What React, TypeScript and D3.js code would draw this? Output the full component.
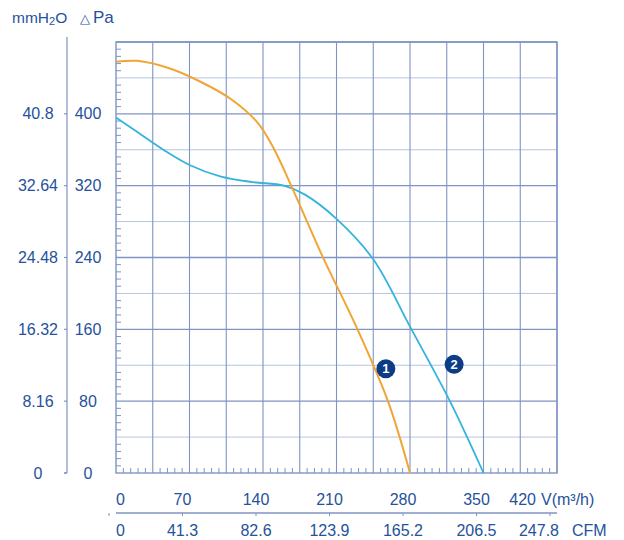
import React from "react";
import * as d3 from "d3";

const flowTicks = [0, 70, 140, 210, 280, 350, 420];
const cfmLabels = ["0", "41.3", "82.6", "123.9", "165.2", "206.5", "247.8"];
const paTicks = [0, 80, 160, 240, 320, 400];
const mmLabels = ["0", "8.16", "16.32", "24.48", "32.64", "40.8"];

const curve1Flow = [0, 20, 50, 80, 110, 135, 150, 168, 196, 230, 259, 280];
const curve1Pa = [458, 459, 451, 436, 416, 390, 362, 317, 243, 160, 80, 0];
const curve2Flow = [0, 20, 45, 70, 100, 130, 160, 180, 210, 245, 280, 318, 350];
const curve2Pa = [396, 380, 360, 343, 330, 324, 320, 310, 283, 238, 163, 80, 0];

const markers = [
  { label: "1", flow: 257, pa: 116 },
  { label: "2", flow: 322, pa: 121 },
];

const TEXT = "#25529c";
const DARK = "#7e94c3";
const LIGHT = "#b7c4de";

export default function App() {
  const left = 116, right = 557, top = 42, bottom = 473;
  const x = d3.scaleLinear().domain([0, 420]).range([left, right]);
  const y = d3.scaleLinear().domain([0, 480]).range([bottom, top]);
  const line = d3
    .line<[number, number]>()
    .x((d) => x(d[0]))
    .y((d) => y(d[1]))
    .curve(d3.curveCatmullRom.alpha(0.5));
  const c1 = curve1Flow.map((f, i) => [f, curve1Pa[i]] as [number, number]);
  const c2 = curve2Flow.map((f, i) => [f, curve2Pa[i]] as [number, number]);
  const hLines = d3.range(40, 481, 40);
  const vLines = d3.range(35, 421, 35);
  const minorY = d3.range(0, 480, 8).filter((v) => v % 40 !== 0);
  const minorX = d3.range(0, 420, 7).filter((v) => v % 35 !== 0);
  const font = "Liberation Sans, Arial, sans-serif";

  return (
    <svg
      width={624}
      height={540}
      style={{ position: "absolute", left: 0, top: 0, background: "#fff" }}
      fontFamily={font}
    >
      {/* grid */}
      {hLines.map((v) => (
        <line
          key={"h" + v}
          x1={left}
          x2={right}
          y1={y(v)}
          y2={y(v)}
          stroke={v % 80 === 0 ? DARK : LIGHT}
          strokeWidth={v % 80 === 0 ? 1.3 : 1}
        />
      ))}
      {vLines.map((v) => (
        <line key={"v" + v} x1={x(v)} x2={x(v)} y1={top} y2={bottom} stroke={DARK} strokeWidth={1.1} />
      ))}
      {minorY.map((v) => (
        <line key={"my" + v} x1={left} x2={left + 5} y1={y(v)} y2={y(v)} stroke={DARK} strokeWidth={1} />
      ))}
      {minorX.map((v) => (
        <line key={"mx" + v} x1={x(v)} x2={x(v)} y1={bottom} y2={bottom - 5} stroke={DARK} strokeWidth={1} />
      ))}
      <rect x={left} y={top} width={right - left} height={bottom - top} fill="none" stroke={DARK} strokeWidth={1.4} />

      {/* curves */}
      <path d={line(c2) || ""} fill="none" stroke="#35b3dc" strokeWidth={1.8} />
      <path d={line(c1) || ""} fill="none" stroke="#f0a534" strokeWidth={2} />

      {/* markers */}
      {markers.map((m) => (
        <g key={m.label}>
          <circle cx={x(m.flow)} cy={y(m.pa)} r={9.5} fill="#0c3c86" />
          <text
            x={x(m.flow)}
            y={y(m.pa)}
            textAnchor="middle"
            dominantBaseline="central"
            fill="#fff"
            fontWeight="bold"
            fontSize={13}
          >
            {m.label}
          </text>
        </g>
      ))}

      {/* left axes */}
      <text x={12} y={23} fill={TEXT} fontSize={15.5}>
        mmH<tspan fontSize={11} dy={2}>2</tspan>
        <tspan dy={-2}>O</tspan>
      </text>
      <text x={80} y={23} fill={TEXT} fontSize={17}>
        <tspan fontSize={13}>△</tspan>
        <tspan dx={3}>Pa</tspan>
      </text>
      <line x1={67} x2={67} y1={37} y2={bottom} stroke={DARK} strokeWidth={1.2} />
      <line x1={64} x2={67} y1={bottom} y2={bottom} stroke={DARK} strokeWidth={1.2} />
      {paTicks.map((v, i) => (
        <g key={"pa" + v}>
          <line x1={64} x2={67} y1={y(v)} y2={y(v)} stroke={DARK} strokeWidth={1.2} />
          <text x={88} y={y(v)} textAnchor="middle" dominantBaseline="central" fill={TEXT} fontSize={16}>
            {v}
          </text>
          <text x={38} y={y(v)} textAnchor="middle" dominantBaseline="central" fill={TEXT} fontSize={16}>
            {mmLabels[i]}
          </text>
        </g>
      ))}

      {/* bottom axes */}
      {flowTicks.map((v, i) => (
        <text
          key={"f" + v}
          x={i === 0 ? x(v) : i === flowTicks.length - 1 ? x(v) - 21 : x(v) - 7}
          y={505}
          textAnchor={i === 0 ? "start" : i === flowTicks.length - 1 ? "end" : "middle"}
          fill={TEXT}
          fontSize={16}
        >
          {v}
        </text>
      ))}
      <text x={541} y={505} fill={TEXT} fontSize={16}>
        V(m³/h)
      </text>
      <line x1={left} x2={right} y1={513} y2={513} stroke={DARK} strokeWidth={1.3} />
      {flowTicks.map((v) => (
        <line key={"ct" + v} x1={x(v) - 7} x2={x(v) - 7} y1={513} y2={516} stroke={DARK} strokeWidth={1} />
      ))}
      {cfmLabels.map((s, i) => (
        <text
          key={"c" + s}
          x={i === 0 ? x(flowTicks[i]) : i === cfmLabels.length - 1 ? x(flowTicks[i]) - 18 : x(flowTicks[i]) - 7}
          y={536}
          textAnchor={i === 0 ? "start" : "middle"}
          fill={TEXT}
          fontSize={16}
        >
          {s}
        </text>
      ))}
      <text x={572} y={536} fill={TEXT} fontSize={16}>
        CFM
      </text>
    </svg>
  );
}
